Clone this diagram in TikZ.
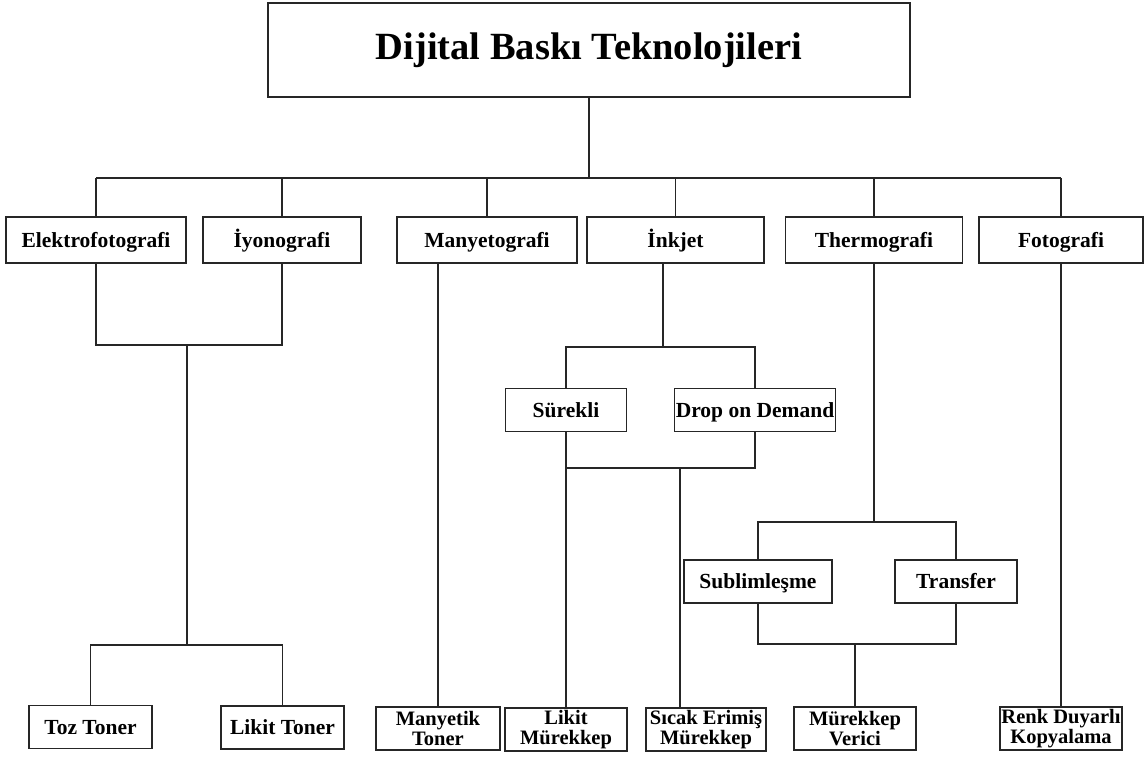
\documentclass[tikz,border=0pt]{standalone}
\usepackage{fontspec}
\setmainfont{Liberation Serif}
\begin{document}
\begin{tikzpicture}[x=1pt,y=-1pt,
  boxbase/.style={draw=black!85, line width=1.3pt, inner sep=0pt, align=center,
    font=\bfseries\fontsize{21.5}{20.5}\selectfont},
  box/.style={boxbase, text height=14.2pt, text depth=0pt},
  boxtwo/.style={boxbase, font=\bfseries\fontsize{20.5}{20.5}\selectfont},
  ln/.style={draw=black!85, line width=1.2pt}]
\useasboundingbox (0,0) rectangle (1144,783);
% title
\node[boxbase, minimum width=642, minimum height=94, text height=25.5pt, text depth=7pt,
  font=\bfseries\fontsize{38.5}{40}\selectfont] (title) at (589,50) {Dijital Baskı Teknolojileri};
% level 1
\node[box, minimum width=180, minimum height=46] (elek) at (96,240) {Elektrofotografi};
\node[box, minimum width=158, minimum height=46] (iyon) at (282,240) {İyonografi};
\node[box, minimum width=180, minimum height=46] (many) at (487,240) {Manyetografi};
\node[box, minimum width=177, minimum height=46] (inkj) at (675.5,240) {İnkjet};
\node[box, minimum width=177, minimum height=46] (therm) at (874,240) {Thermografi};
\node[box, minimum width=164, minimum height=46] (foto) at (1061,240) {Fotografi};
% middle
\node[box, minimum width=121, minimum height=43] (sur) at (566,410) {Sürekli};
\node[box, minimum width=161, minimum height=43] (dod) at (755,410) {Drop on Demand};
\node[box, minimum width=148, minimum height=43] (subl) at (758,581.5) {Sublimleşme};
\node[box, minimum width=122, minimum height=43] (tran) at (956,581.5) {Transfer};
% bottom
\node[box, minimum width=123, minimum height=43] (toz) at (90.5,727) {Toz Toner};
\node[box, minimum width=123, minimum height=43] (likt) at (282.5,727.5) {Likit Toner};
\node[boxtwo, minimum width=124, minimum height=43] (mt) at (438,728.5) {Manyetik\\Toner};
\node[boxtwo, minimum width=122, minimum height=43] (lm) at (566,729.5) {Likit\\Mürekkep};
\node[boxtwo, minimum width=120, minimum height=43] (se) at (706,729.5) {Sıcak Erimiş\\Mürekkep};
\node[boxtwo, minimum width=122, minimum height=43] (mv) at (855,728.5) {Mürekkep\\Verici};
\node[boxtwo, minimum width=122, minimum height=43] (rd) at (1061,728.5) {Renk Duyarlı\\Kopyalama};
% junctions
\coordinate (busL) at (96,178);
\coordinate (busR) at (1061,178);
\coordinate (eiT) at (187,345);
\coordinate (eiB) at (187,645);
\coordinate (ikT) at (663,347);
\coordinate (ikB) at (680,468);
\coordinate (thT) at (874,522);
\coordinate (thB) at (855,644);
% connectors
\draw[ln] (title.south) -- (title.south |- busL);
\draw[ln] (busL) -- (busR);
\foreach \n in {elek,iyon,many,inkj,therm,foto}
  \draw[ln] (\n.north) -- (\n.north |- busL);
\draw[ln] (elek.south) |- (eiT) -| (iyon.south);
\draw[ln] (eiT) -- (eiB);
\draw[ln] (toz.north) |- (eiB) -| (likt.north);
\draw[ln] (many.south -| mt.north) -- (mt.north);
\draw[ln] (inkj.south -| ikT) -- (ikT);
\draw[ln] (sur.north) |- (ikT) -| (dod.north);
\draw[ln] (sur.south) -- (lm.north);
\draw[ln] (sur.south |- ikB) -| (dod.south);
\draw[ln] (ikB) -- (ikB |- se.north);
\draw[ln] (therm.south) -- (thT);
\draw[ln] (subl.north) |- (thT) -| (tran.north);
\draw[ln] (subl.south) |- (thB) -| (tran.south);
\draw[ln] (thB) -- (mv.north);
\draw[ln] (foto.south) -- (rd.north);
\end{tikzpicture}
\end{document}
